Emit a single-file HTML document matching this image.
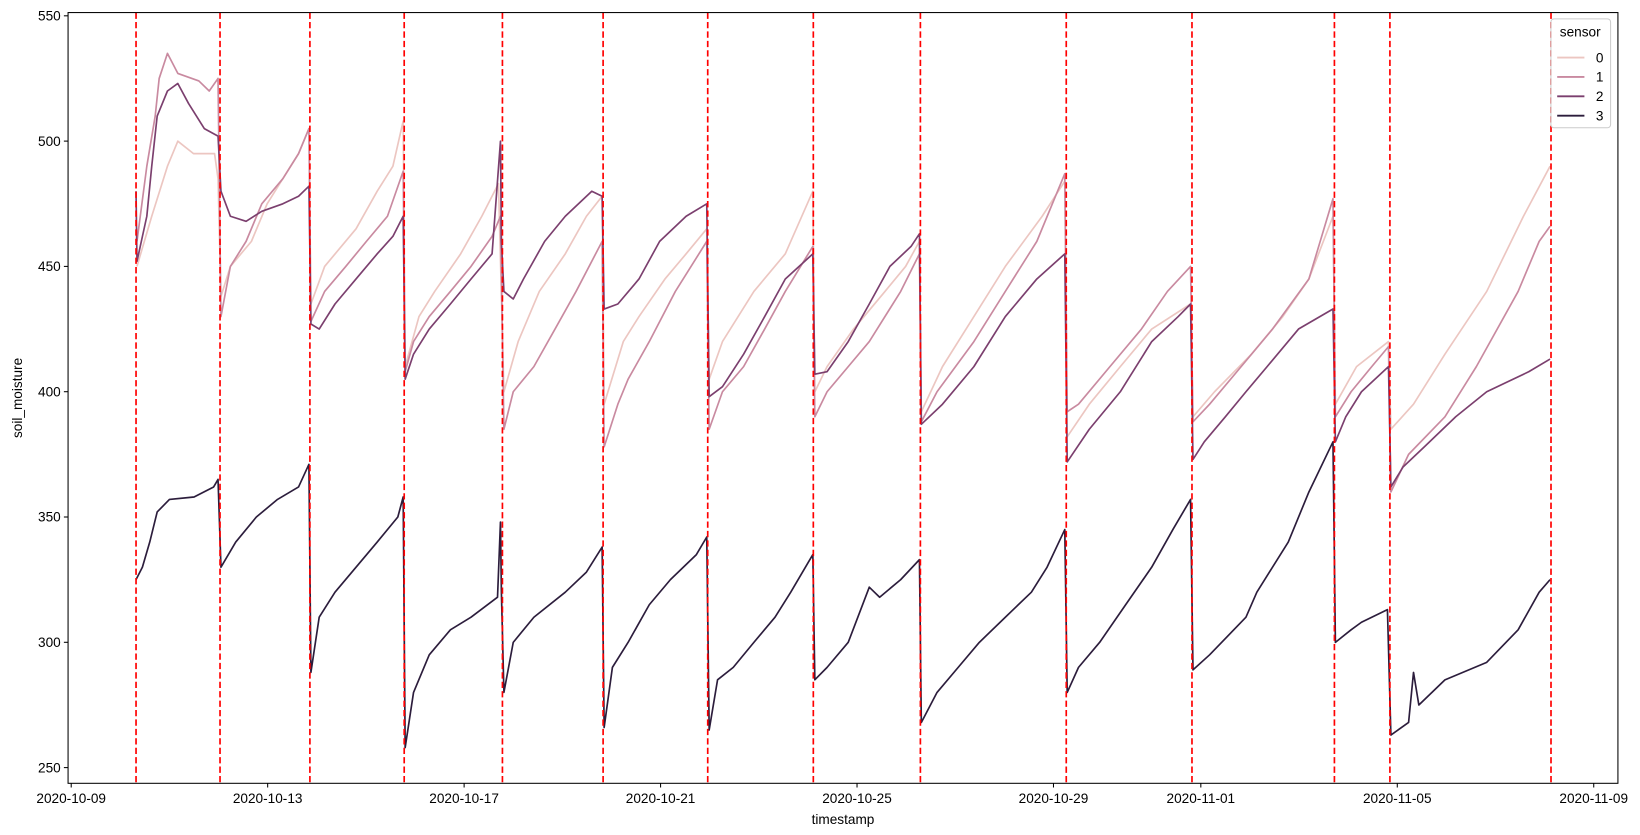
<!DOCTYPE html>
<html><head><meta charset="utf-8"><style>
body{margin:0;background:#fff;}
svg{display:block;font-family:"Liberation Sans","DejaVu Sans",sans-serif;}
</style></head><body>
<svg id="chart" width="1640" height="835" viewBox="0 0 1640 835" xmlns="http://www.w3.org/2000/svg"><g id="root" transform="scale(1.0472)"></g></svg>
<script>
const yTicks=[250,300,350,400,450,500,550];
const xTickLabels=["2020-10-09","2020-10-13","2020-10-17","2020-10-21","2020-10-25","2020-10-29","2020-11-01","2020-11-05","2020-11-09"];
const xTickDays=[0,4,8,12,16,20,23,27,31];
const events=[1.32,3.03,4.86,6.78,8.78,10.83,12.96,15.11,17.29,20.26,22.82,25.72,26.85,30.13];
const sensorNames=["0","1","2","3"];
const sensor0=[[1.34,450],[1.64,470],[1.96,490],[2.17,500],[2.49,495],[2.92,495],[2.99,485],
[3.05,438],[3.24,450],[3.67,460],[3.99,475],[4.31,485],[4.63,495],[4.84,505],
[4.88,435],[5.16,450],[5.80,465],[6.23,480],[6.55,490],[6.76,508],
[6.80,410],[7.08,430],[7.40,440],[7.93,455],[8.36,470],[8.70,483],
[8.81,400],[9.10,420],[9.53,440],[10.06,455],[10.49,470],[10.81,478],
[10.85,395],[11.24,420],[11.56,430],[12.09,445],[12.52,455],[12.94,465],
[12.99,405],[13.26,420],[13.90,440],[14.54,455],[15.10,480],
[15.14,400],[15.39,410],[15.93,425],[16.57,440],[16.99,450],[17.27,460],
[17.31,392],[17.74,410],[18.38,430],[19.02,450],[19.77,470],[20.23,484],
[20.28,382],[20.73,395],[21.36,410],[22.00,425],[22.79,435],
[22.84,390],[23.28,400],[24.03,415],[24.67,430],[25.20,445],[25.69,470],
[25.74,395],[26.17,410],[26.82,420],
[26.87,385],[27.33,395],[27.97,415],[28.82,440],[29.57,470],[30.11,490]];
const sensor1=[[1.34,460],[1.54,490],[1.71,510],[1.79,525],[1.96,535],[2.17,527],[2.60,524],[2.81,520],[2.99,525],
[3.05,430],[3.24,450],[3.56,460],[3.88,475],[4.31,485],[4.63,495],[4.84,505],
[4.88,428],[5.16,440],[5.59,450],[6.01,460],[6.44,470],[6.76,488],
[6.80,408],[6.97,420],[7.29,430],[7.72,440],[8.14,450],[8.57,462],[8.74,470],
[8.81,385],[9.00,400],[9.42,410],[9.85,425],[10.28,440],[10.81,460],
[10.85,378],[11.13,395],[11.34,405],[11.77,420],[12.30,440],[12.94,460],
[12.99,385],[13.26,400],[13.69,410],[14.12,425],[14.54,440],[15.10,458],
[15.14,390],[15.39,400],[15.82,410],[16.25,420],[16.89,440],[17.27,455],
[17.31,388],[17.63,400],[18.38,420],[19.02,440],[19.66,460],[20.23,487],
[20.28,392],[20.51,395],[21.15,410],[21.79,425],[22.32,440],[22.79,450],
[22.84,388],[23.18,395],[23.82,410],[24.46,425],[25.20,445],[25.69,477],
[25.74,390],[26.06,400],[26.48,410],[26.82,418],
[26.87,360],[27.23,375],[27.97,390],[28.61,410],[29.46,440],[29.89,460],[30.11,466]];
const sensor2=[[1.32,480],[1.34,452],[1.54,470],[1.64,490],[1.75,510],[1.96,520],[2.17,523],[2.39,515],[2.71,505],[2.99,502],
[3.05,480],[3.24,470],[3.56,468],[3.88,472],[4.31,475],[4.63,478],[4.84,482],
[4.88,427],[5.05,425],[5.37,435],[5.80,445],[6.23,455],[6.55,462],[6.76,470],
[6.80,405],[6.97,415],[7.29,425],[7.72,435],[8.14,445],[8.57,455],[8.74,500],[8.76,460],
[8.81,440],[9.00,437],[9.21,445],[9.64,460],[10.06,470],[10.60,480],[10.81,478],
[10.85,433],[11.13,435],[11.56,445],[11.98,460],[12.52,470],[12.94,475],
[12.99,398],[13.26,402],[13.69,415],[14.12,430],[14.54,445],[15.10,455],
[15.14,407],[15.39,408],[15.82,420],[16.25,435],[16.67,450],[17.10,458],[17.27,463],
[17.31,387],[17.74,395],[18.38,410],[19.02,430],[19.66,445],[20.23,455],
[20.28,372],[20.73,385],[21.36,400],[22.00,420],[22.54,430],[22.79,435],
[22.84,373],[23.07,380],[23.50,390],[23.92,400],[24.35,410],[24.99,425],[25.69,433],
[25.74,380],[25.95,390],[26.27,400],[26.82,410],
[26.87,362],[27.12,370],[27.55,378],[28.19,390],[28.82,400],[29.68,408],[30.11,413]];
const sensor3=[[1.32,325],[1.45,330],[1.60,340],[1.75,352],[2.00,357],[2.50,358],[2.90,362],[2.99,365],
[3.05,330],[3.35,340],[3.77,350],[4.20,357],[4.63,362],[4.84,371],
[4.88,288],[5.05,310],[5.37,320],[5.80,330],[6.23,340],[6.65,350],[6.76,358],
[6.80,258],[6.97,280],[7.29,295],[7.72,305],[8.14,310],[8.68,318],[8.74,348],[8.76,320],
[8.81,280],[9.00,300],[9.42,310],[10.06,320],[10.49,328],[10.81,338],
[10.85,266],[11.02,290],[11.34,300],[11.77,315],[12.20,325],[12.73,335],[12.94,342],
[12.99,265],[13.16,285],[13.48,290],[13.90,300],[14.33,310],[14.65,320],[15.10,335],
[15.14,285],[15.39,290],[15.82,300],[16.25,322],[16.46,318],[16.89,325],[17.27,333],
[17.31,268],[17.63,280],[18.06,290],[18.49,300],[19.02,310],[19.55,320],[19.87,330],[20.23,345],
[20.28,280],[20.51,290],[20.94,300],[21.47,315],[22.00,330],[22.43,345],[22.79,357],
[22.84,289],[23.18,295],[23.92,310],[24.14,320],[24.78,340],[25.20,360],[25.69,380],
[25.74,300],[26.06,305],[26.27,308],[26.80,313],
[26.87,263],[27.23,268],[27.33,288],[27.44,275],[27.97,285],[28.82,292],[29.46,305],[29.89,320],[30.11,325]];
const seriesData=[sensor0,sensor1,sensor2,sensor3];
const colors=["#ecc6c1","#c98aa0","#7b3f6e","#2c1d3c"];

const L=65,R=1545,T=12,B=748;
const X=d=>68+d*46.9;
const Y=v=>733-(v-250)*2.393;
const svg=document.getElementById('root');
const NS="http://www.w3.org/2000/svg";
function mk(tag,attrs,parent){const e=document.createElementNS(NS,tag);for(const k in attrs)e.setAttribute(k,attrs[k]);(parent||svg).appendChild(e);return e;}

seriesData.forEach((s,i)=>{
  const p=mk('polyline',{points:s.map(d=>X(d[0]).toFixed(1)+','+Y(d[1]).toFixed(1)).join(' '),fill:'none',stroke:colors[i],'stroke-width':1.6,'stroke-linejoin':'round'});
  
  
});
events.forEach((d,i)=>{
  const l=mk('line',{x1:X(d),x2:X(d),y1:T,y2:B,stroke:'#ff0000','stroke-width':1.6,'stroke-dasharray':'6,3'});
  
  
});
const fr=mk('rect',{x:L,y:T,width:R-L,height:B-T,fill:'none',stroke:'#000','stroke-width':1});


yTicks.forEach(v=>{
  const y=Y(v);
  mk('line',{x1:L-4,x2:L,y1:y,y2:y,stroke:'#000'});
  const t=mk('text',{x:L-7,y:y+4.5,'text-anchor':'end','font-size':13,fill:'#000'});
  t.textContent=v;
  
  
});
xTickDays.forEach((d,i)=>{
  const x=X(d);
  mk('line',{x1:x,x2:x,y1:B,y2:B+4,stroke:'#000'});
  const t=mk('text',{x:x,y:B+19,'text-anchor':'middle','font-size':13,fill:'#000'});
  t.textContent=xTickLabels[i];
  
  
});
const xl=mk('text',{x:(L+R)/2,y:787,'text-anchor':'middle','font-size':13});
xl.textContent='timestamp';


const yl=mk('text',{x:21,y:(T+B)/2,'text-anchor':'middle','font-size':13,transform:'rotate(-90 21 '+((T+B)/2)+')'});
yl.textContent='soil_moisture';


const lg=mk('g',{});


mk('rect',{x:1481,y:18,width:57,height:104,rx:3,fill:'#fff','fill-opacity':0.8,stroke:'#ccc'},lg);
const lt=mk('text',{x:1509,y:35,'text-anchor':'middle','font-size':13},lg);
lt.textContent='sensor';
sensorNames.forEach((n,i)=>{
  const y=55+i*18.5;
  const g=mk('g',{},lg);
  
  
  mk('line',{x1:1487,x2:1513,y1:y,y2:y,stroke:colors[i],'stroke-width':1.8},g);
  const t=mk('text',{x:1524,y:y+4.5,'font-size':13},g);
  t.textContent=n;
});
</script>
</body></html>
